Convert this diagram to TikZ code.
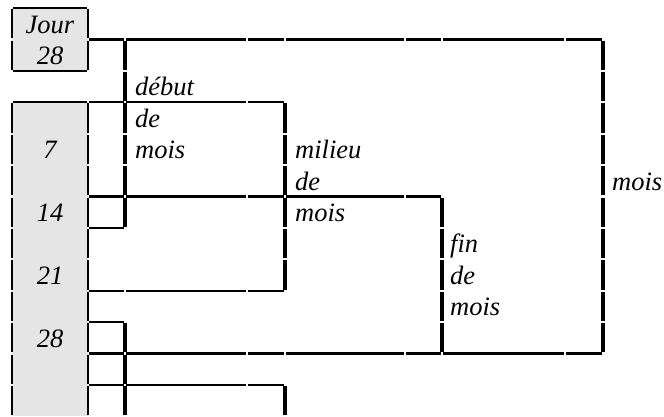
\documentclass[tikz,border=0pt]{standalone}
\usepackage{fontspec}
\setmainfont{Liberation Serif}

% horizontal run of cell borders: style, row, first col, last col
\newcommand\hrun[4]{%
  \pgfmathtruncatemacro\hend{#4-1}
  \foreach \c in {#3,...,\hend}{
    \pgfmathtruncatemacro\cnext{\c+1}
    \draw[#1] ([xshift=1.1pt]g\c-#2) -- ([xshift=-1.1pt]g\cnext-#2);
  }}
% vertical run of cell borders: style, col, first row, last row
\newcommand\vrun[4]{%
  \pgfmathtruncatemacro\vend{#4-1}
  \foreach \r in {#3,...,\vend}{
    \pgfmathtruncatemacro\rnext{\r+1}
    \draw[#1] ([yshift=-1.1pt]g#2-\r) -- ([yshift=1.1pt]g#2-\rnext);
  }}

\begin{document}
\begin{tikzpicture}[
  x=1pt, y=-1pt,
  thinrule/.style={line width=2.2pt},
  thickrule/.style={line width=4.8pt},
  cellrule/.style={line width=1.8pt},
  lbl/.style={anchor=base west, inner sep=0pt, font=\itshape\fontsize{26.5}{30}\selectfont},
  daylbl/.style={anchor=base, inner sep=0pt, font=\itshape\fontsize{26.5}{30}\selectfont}
]
\useasboundingbox (0,0) rectangle (664,416);

% grid of the table
\foreach \x [count=\i from 0] in {12,88,125,247,285,405,442,565,603}
  \foreach \j in {0,...,13}
    \coordinate (g\i-\j) at (\x,8+31.4*\j);

% day column
\fill[black!10] (g0-0) rectangle (g1-2);
\fill[black!10] (g0-3) rectangle (g1-13);
\hrun{cellrule}{0}{0}{1}
\hrun{cellrule}{2}{0}{1}
\hrun{cellrule}{3}{0}{1}
\vrun{cellrule}{0}{0}{2}
\vrun{cellrule}{1}{0}{2}
\vrun{cellrule}{0}{3}{13}
\vrun{cellrule}{1}{3}{13}

\node[daylbl] (jour) at ([xshift=38pt,yshift=-25pt]g0-0) {Jour};
\foreach \d/\k in {28/1,7/4,14/6,21/8,28/10}
  \node[daylbl] (day\k) at ([xshift=38pt,yshift=-25pt]g0-\k) {\d};

% brackets
\hrun{thinrule}{1}{1}{8}
\hrun{thinrule}{3}{1}{4}
\hrun{thinrule}{6}{1}{6}
\hrun{thinrule}{7}{1}{2}
\hrun{thinrule}{9}{1}{4}
\hrun{thinrule}{10}{1}{2}
\hrun{thinrule}{11}{1}{8}
\hrun{thinrule}{12}{1}{4}

\vrun{thickrule}{2}{1}{7}
\vrun{thickrule}{2}{10}{13}
\vrun{thickrule}{4}{3}{9}
\vrun{thickrule}{4}{12}{13}
\vrun{thickrule}{6}{6}{11}
\vrun{thickrule}{8}{1}{11}

% labels
\foreach \w [count=\k from 2] in {début,de,mois}
  \node[lbl] (debut\k) at ([xshift=10pt,yshift=-25pt]g2-\k) {\w};
\foreach \w [count=\k from 4] in {milieu,de,mois}
  \node[lbl] (milieu\k) at ([xshift=10pt,yshift=-25pt]g4-\k) {\w};
\foreach \w [count=\k from 7] in {fin,de,mois}
  \node[lbl] (fin\k) at ([xshift=8pt,yshift=-25pt]g6-\k) {\w};
\node[lbl] (mois) at ([xshift=9pt,yshift=-25pt]g8-5) {mois};
\end{tikzpicture}
\end{document}
